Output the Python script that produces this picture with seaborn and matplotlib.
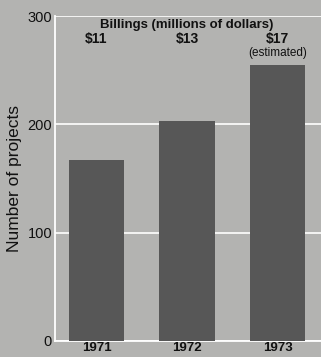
import numpy as np
import pandas as pd
from matplotlib import pyplot as plt
import seaborn as sns

years = ['1971', '1972', '1973']
projects = [167, 203, 255]
billings = ['$11', '$13', '$17']

BG = '#b3b3b1'
BAR = '#575757'

sns.set_style('white')
plt.rcParams['font.family'] = ['Liberation Sans', 'DejaVu Sans']

fig = plt.figure(figsize=(3.21, 3.57), dpi=100, facecolor=BG)
ax = fig.add_axes([0.171, 0.045, 0.829, 0.91])
ax.set_facecolor(BG)

df = pd.DataFrame({'year': years, 'projects': projects})
sns.barplot(data=df, x='year', y='projects', color=BAR, saturation=1,
            width=0.61, ax=ax, zorder=3, linewidth=0)

ax.set_ylim(0, 300)
ax.set_xlim(-0.46, 2.48)
ax.set_yticks([0, 100, 200, 300])
ax.yaxis.grid(True, color='white', linewidth=1.2, zorder=0)
ax.set_axisbelow(True)

for s in ['top', 'right']:
    ax.spines[s].set_visible(False)
for s in ['left', 'bottom']:
    ax.spines[s].set_color('white')
    ax.spines[s].set_linewidth(1.3)

ax.tick_params(axis='both', length=0, colors='#111111')
ax.tick_params(axis='y', pad=2)
ax.tick_params(axis='x', pad=1)
for lab in ax.get_yticklabels():
    lab.set_fontsize(10.5)
for lab in ax.get_xticklabels():
    lab.set_fontsize(9.5)
    lab.set_fontweight('bold')
ax.set_xlabel('')
ax.set_ylabel('Number of projects', fontsize=12.5, color='#111111', labelpad=4)

ax.text(1.0, 292, 'Billings (millions of dollars)', ha='center', va='center',
        fontsize=9.5, fontweight='bold', color='#111111')
for i, b in enumerate(billings):
    ax.text(i, 279, b, ha='center', va='center', fontsize=10,
            fontweight='bold', color='#111111')
ax.text(2, 266, '(estimated)', ha='center', va='center', fontsize=8.5,
        color='#111111')

fig.savefig('out.png', dpi=100, facecolor=BG)
